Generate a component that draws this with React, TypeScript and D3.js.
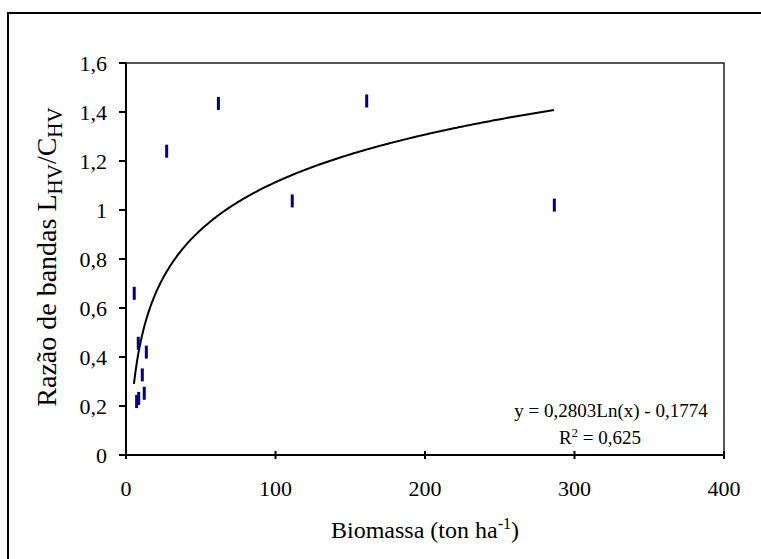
import React from 'react'
import { scaleLinear, line, range } from 'd3'

const biomassa = [5.5, 8.2, 13.6, 10.9, 12.2, 7.1, 8.5, 27.2, 61.8, 111.2, 161, 286.5]
const razao = [0.66, 0.456, 0.42, 0.327, 0.252, 0.218, 0.231, 1.24, 1.435, 1.037, 1.445, 1.02]
const xTicks = [0, 100, 200, 300, 400]
const yTicks = [0, 0.2, 0.4, 0.6, 0.8, 1, 1.2, 1.4, 1.6]

const coefA = 0.2803
const coefB = -0.1774

const width = 761
const height = 559
const margin = { top: 63, right: 37, bottom: 104, left: 126 }
const innerWidth = width - margin.left - margin.right
const innerHeight = height - margin.top - margin.bottom

const fmt = (v: number) => String(+v.toFixed(1)).replace('.', ',')

export default function App() {
  const xScale = scaleLinear().domain([0, 400]).range([0, innerWidth])
  const yScale = scaleLinear().domain([0, 1.6]).range([innerHeight, 0])

  const trendX = range(5.3, 287.01, 1)
  const trend = line<number>()
    .x(d => xScale(d))
    .y(d => yScale(coefA * Math.log(d) + coefB))

  const font = '"Liberation Serif", "Times New Roman", serif'

  return (
    <svg width={width} height={height} style={{ position: 'absolute', left: 0, top: 0 }} fontFamily={font}>
      <rect x={0} y={0} width={width} height={height} fill="white" />
      <rect x={8} y={13} width={width + 20} height={height + 20} fill="none" stroke="black" strokeWidth={2} />
      <g transform={`translate(${margin.left},${margin.top})`}>
        <rect x={0} y={0} width={innerWidth} height={innerHeight} fill="none" stroke="#222" strokeWidth={1.5} />
        <line x1={0} y1={0} x2={0} y2={innerHeight} stroke="black" strokeWidth={2} />
        <line x1={0} y1={innerHeight} x2={innerWidth} y2={innerHeight} stroke="black" strokeWidth={2} />
        {yTicks.map(t => (
          <g key={t} transform={`translate(0,${yScale(t)})`}>
            <line x1={-7} x2={0} y1={0} y2={0} stroke="black" strokeWidth={2} />
            <text x={-19} dy="0.35em" textAnchor="end" fontSize={22}>{fmt(t)}</text>
          </g>
        ))}
        {xTicks.map(t => (
          <g key={t} transform={`translate(${xScale(t)},${innerHeight})`}>
            <line x1={0} x2={0} y1={-4} y2={4} stroke="black" strokeWidth={2} />
            <text y={33} dy="0.35em" textAnchor="middle" fontSize={22}>{t}</text>
          </g>
        ))}
        <path d={trend(trendX) || ''} fill="none" stroke="black" strokeWidth={2} />
        {biomassa.map((b, i) => (
          <rect key={i} x={xScale(b) - 1.5} y={yScale(razao[i]) - 6.5} width={3} height={13} fill="#000080" />
        ))}
        <text x={innerWidth - 113} y={innerHeight - 45} dy="0.35em" textAnchor="middle" fontSize={19}>
          y = 0,2803Ln(x) - 0,1774
        </text>
        <text x={innerWidth - 124} y={innerHeight - 18} dy="0.35em" textAnchor="middle" fontSize={19}>
          R<tspan dy="-7" fontSize={13}>2</tspan><tspan dy="7"> = 0,625</tspan>
        </text>
        <text x={innerWidth / 2} y={innerHeight + 75} dy="0.35em" textAnchor="middle" fontSize={24}>
          Biomassa (ton ha<tspan dy="-9" fontSize={16}>-1</tspan><tspan dy="9">)</tspan>
        </text>
      </g>
      <text transform={`translate(46,257) rotate(-90)`} textAnchor="middle" dy="0.35em" fontSize={28}>
        Razão de bandas L<tspan dy="6" fontSize={21}>HV</tspan><tspan dy="-6">/C</tspan><tspan dy="6" fontSize={21}>HV</tspan>
      </text>
    </svg>
  )
}
